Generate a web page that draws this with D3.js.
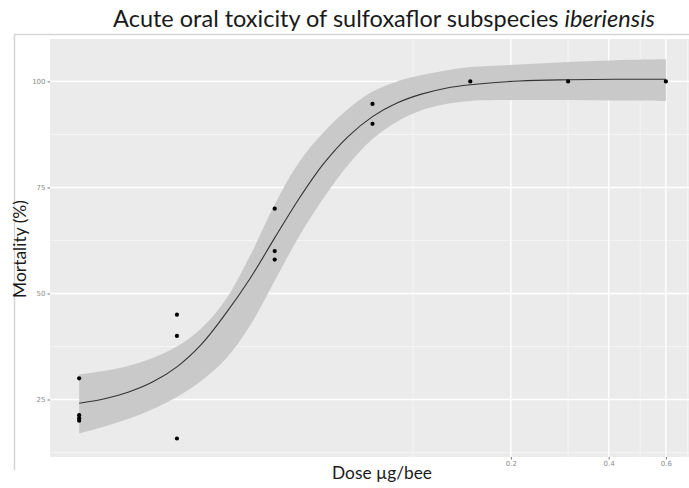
<!DOCTYPE html>
<html>
<head>
<meta charset="utf-8">
<script src="https://cdn.jsdelivr.net/npm/d3@7"></script>
<style>
  html, body { margin: 0; padding: 0; background: #ffffff; }
  svg { display: block; }
</style>
</head>
<body>
<div id="chart"></div>
<script>
// ---- data ----
const pointDose = [0.009375, 0.009375, 0.009375, 0.009375,
                   0.01875, 0.01875, 0.01875,
                   0.0375, 0.0375, 0.0375,
                   0.075, 0.075,
                   0.15, 0.3, 0.6];
const pointMortality = [30, 21.3, 20.6, 20,
                        45, 40, 15.8,
                        70, 60, 58,
                        94.7, 90,
                        100, 100, 100];

// fitted curve and its confidence band, read along the dose axis
const curveDose = [0.009375, 0.011149, 0.013258, 0.015767, 0.01875, 0.022298, 0.026517, 0.031534,
                   0.0375, 0.044595, 0.053033, 0.063067, 0.075, 0.08919, 0.106066, 0.126134,
                   0.15, 0.212132, 0.3, 0.424264, 0.6];
const curveMortality = [24.1, 25.1, 26.7, 29.1, 32.7, 38.0, 45.3, 53.6,
                        63.1, 72.4, 80.6, 87.0, 91.7, 94.9, 97.0, 98.4,
                        99.2, 100.1, 100.4, 100.5, 100.5];
const bandLower = [17.0, 18.6, 20.4, 22.7, 25.6, 29.4, 34.6, 42.5,
                   53.0, 63.5, 72.5, 80.3, 86.4, 90.5, 93.2, 94.7,
                   95.4, 95.6, 95.6, 95.5, 95.4];
const bandUpper = [30.9, 31.7, 32.9, 34.8, 37.5, 41.8, 48.6, 59.0,
                   71.0, 81.0, 88.0, 93.5, 97.6, 100.0, 101.5, 102.6,
                   103.4, 104.0, 104.6, 105.0, 105.2];

const yMajor = [25, 50, 75, 100];
const yMinor = [12.5, 37.5, 62.5, 87.5];
const xMajor = [0.2, 0.4, 0.6];
const xMinor = [0.1, 0.3, 0.5, 0.7];
const xTickLabels = ["0.2", "0.4", "0.6"];
const yTickLabels = ["25", "50", "75", "100"];

const titleText = "Acute oral toxicity of sulfoxaflor subspecies ";
const titleItalic = "iberiensis";
const xTitle = "Dose \u00b5g/bee";
const yTitle = "Mortality (%)";

// ---- layout ----
const W = 689, H = 488;
const panel = { left: 50, top: 39, bottom: 457 };

const svg = d3.select("#chart").append("svg")
  .attr("width", W).attr("height", H);

// log scale with ggplot-like 5% expansion
const dMin = d3.min(pointDose), dMax = d3.max(pointDose);
const lr = Math.log10(dMax) - Math.log10(dMin);
const xDomain = [Math.pow(10, Math.log10(dMin) - 0.05 * lr), Math.pow(10, Math.log10(dMax) + 0.05 * lr)];
const x = d3.scaleLog().domain(xDomain).range([49.8, 695.2]);
const y = d3.scaleLinear().domain([11.44, 110.0]).range([panel.bottom, panel.top]);

// frame lines (light border of the original image)
svg.append("line").attr("x1", 14.5).attr("x2", 14.5).attr("y1", 34).attr("y2", 470)
  .attr("stroke", "#d6d6d6").attr("stroke-width", 1.5);
svg.append("line").attr("x1", 14).attr("x2", W).attr("y1", 34.5).attr("y2", 34.5)
  .attr("stroke", "#d6d6d6").attr("stroke-width", 1.5);

const g = svg.append("g");
const clipId = "panelClip";
svg.append("clipPath").attr("id", clipId).append("rect")
  .attr("x", panel.left).attr("y", panel.top)
  .attr("width", W - panel.left).attr("height", panel.bottom - panel.top);

g.append("rect")
  .attr("x", panel.left).attr("y", panel.top)
  .attr("width", W - panel.left).attr("height", panel.bottom - panel.top)
  .attr("fill", "#ebebeb");

const grid = g.append("g").attr("clip-path", `url(#${clipId})`);
grid.selectAll("line.ymin").data(yMinor).join("line")
  .attr("x1", panel.left).attr("x2", W)
  .attr("y1", d => y(d)).attr("y2", d => y(d))
  .attr("stroke", "#f7f7f7").attr("stroke-width", 0.8);
grid.selectAll("line.xmin").data(xMinor).join("line")
  .attr("y1", panel.top).attr("y2", panel.bottom)
  .attr("x1", d => x(d)).attr("x2", d => x(d))
  .attr("stroke", "#f7f7f7").attr("stroke-width", 0.8);
grid.selectAll("line.ymaj").data(yMajor).join("line")
  .attr("x1", panel.left).attr("x2", W)
  .attr("y1", d => y(d)).attr("y2", d => y(d))
  .attr("stroke", "#ffffff").attr("stroke-width", 1.4);
grid.selectAll("line.xmaj").data(xMajor).join("line")
  .attr("y1", panel.top).attr("y2", panel.bottom)
  .attr("x1", d => x(d)).attr("x2", d => x(d))
  .attr("stroke", "#ffffff").attr("stroke-width", 1.4);

// ribbon
const bandData = curveDose.map((d, i) => ({ d, lo: bandLower[i], hi: bandUpper[i], m: curveMortality[i] }));
const smooth = d3.curveCatmullRom.alpha(0.5);
g.append("path").datum(bandData)
  .attr("fill", "#c9c9c9")
  .attr("d", d3.area().x(p => x(p.d)).y0(p => y(p.lo)).y1(p => y(p.hi)).curve(smooth));

// fitted curve
g.append("path").datum(bandData)
  .attr("fill", "none").attr("stroke", "#333333").attr("stroke-width", 1.1)
  .attr("d", d3.line().x(p => x(p.d)).y(p => y(p.m)).curve(smooth));

// points
g.selectAll("circle.pt").data(pointDose.map((d, i) => ({ d, m: pointMortality[i] }))).join("circle")
  .attr("cx", p => x(p.d)).attr("cy", p => y(p.m)).attr("r", 2.1)
  .attr("fill", "#000000");

// y axis
const yAxis = d3.axisLeft(y).tickValues(yMajor).tickSize(2.5).tickPadding(2)
  .tickFormat((d, i) => yTickLabels[i]);
const ya = svg.append("g").attr("transform", `translate(${panel.left},0)`).call(yAxis);
ya.select(".domain").remove();
ya.selectAll(".tick line").attr("stroke", "#555").attr("stroke-width", 0.8);
ya.selectAll(".tick text").attr("fill", "#8a8a8a").attr("font-size", 7)
  .attr("font-family", "'DejaVu Sans', sans-serif");

// x axis
const xAxis = d3.axisBottom(x).tickValues(xMajor).tickSize(2.5).tickPadding(2)
  .tickFormat((d, i) => xTickLabels[i]);
const xa = svg.append("g").attr("transform", `translate(0,${panel.bottom})`).call(xAxis);
xa.select(".domain").remove();
xa.selectAll(".tick line").attr("stroke", "#555").attr("stroke-width", 0.8);
xa.selectAll(".tick text").attr("fill", "#8a8a8a").attr("font-size", 7)
  .attr("font-family", "'DejaVu Sans', sans-serif");

// title
const title = svg.append("text")
  .attr("x", 384).attr("y", 27)
  .attr("text-anchor", "middle")
  .attr("font-family", "Lato, 'Open Sans', sans-serif")
  .attr("font-size", 21).attr("fill", "#1a1a1a");
title.append("tspan").text(titleText);
title.append("tspan").attr("font-style", "italic").text(titleItalic);
{
  const w = title.node().getComputedTextLength();
  title.attr("font-size", (21 * 542 / w).toFixed(2));
}

// x axis title
const xt = svg.append("text")
  .attr("x", 382).attr("y", 479)
  .attr("text-anchor", "middle")
  .attr("font-family", "Lato, 'Open Sans', sans-serif")
  .attr("font-size", 16).attr("fill", "#1a1a1a")
  .text(xTitle);
{
  const w = xt.node().getComputedTextLength();
  xt.attr("font-size", (16 * 100 / w).toFixed(2));
}

// y axis title
const yt = svg.append("text")
  .attr("transform", "translate(26,249) rotate(-90)")
  .attr("text-anchor", "middle")
  .attr("font-family", "Lato, 'Open Sans', sans-serif")
  .attr("font-size", 16).attr("fill", "#1a1a1a")
  .text(yTitle);
{
  const w = yt.node().getComputedTextLength();
  yt.attr("font-size", (16 * 98 / w).toFixed(2));
}
</script>
</body>
</html>
